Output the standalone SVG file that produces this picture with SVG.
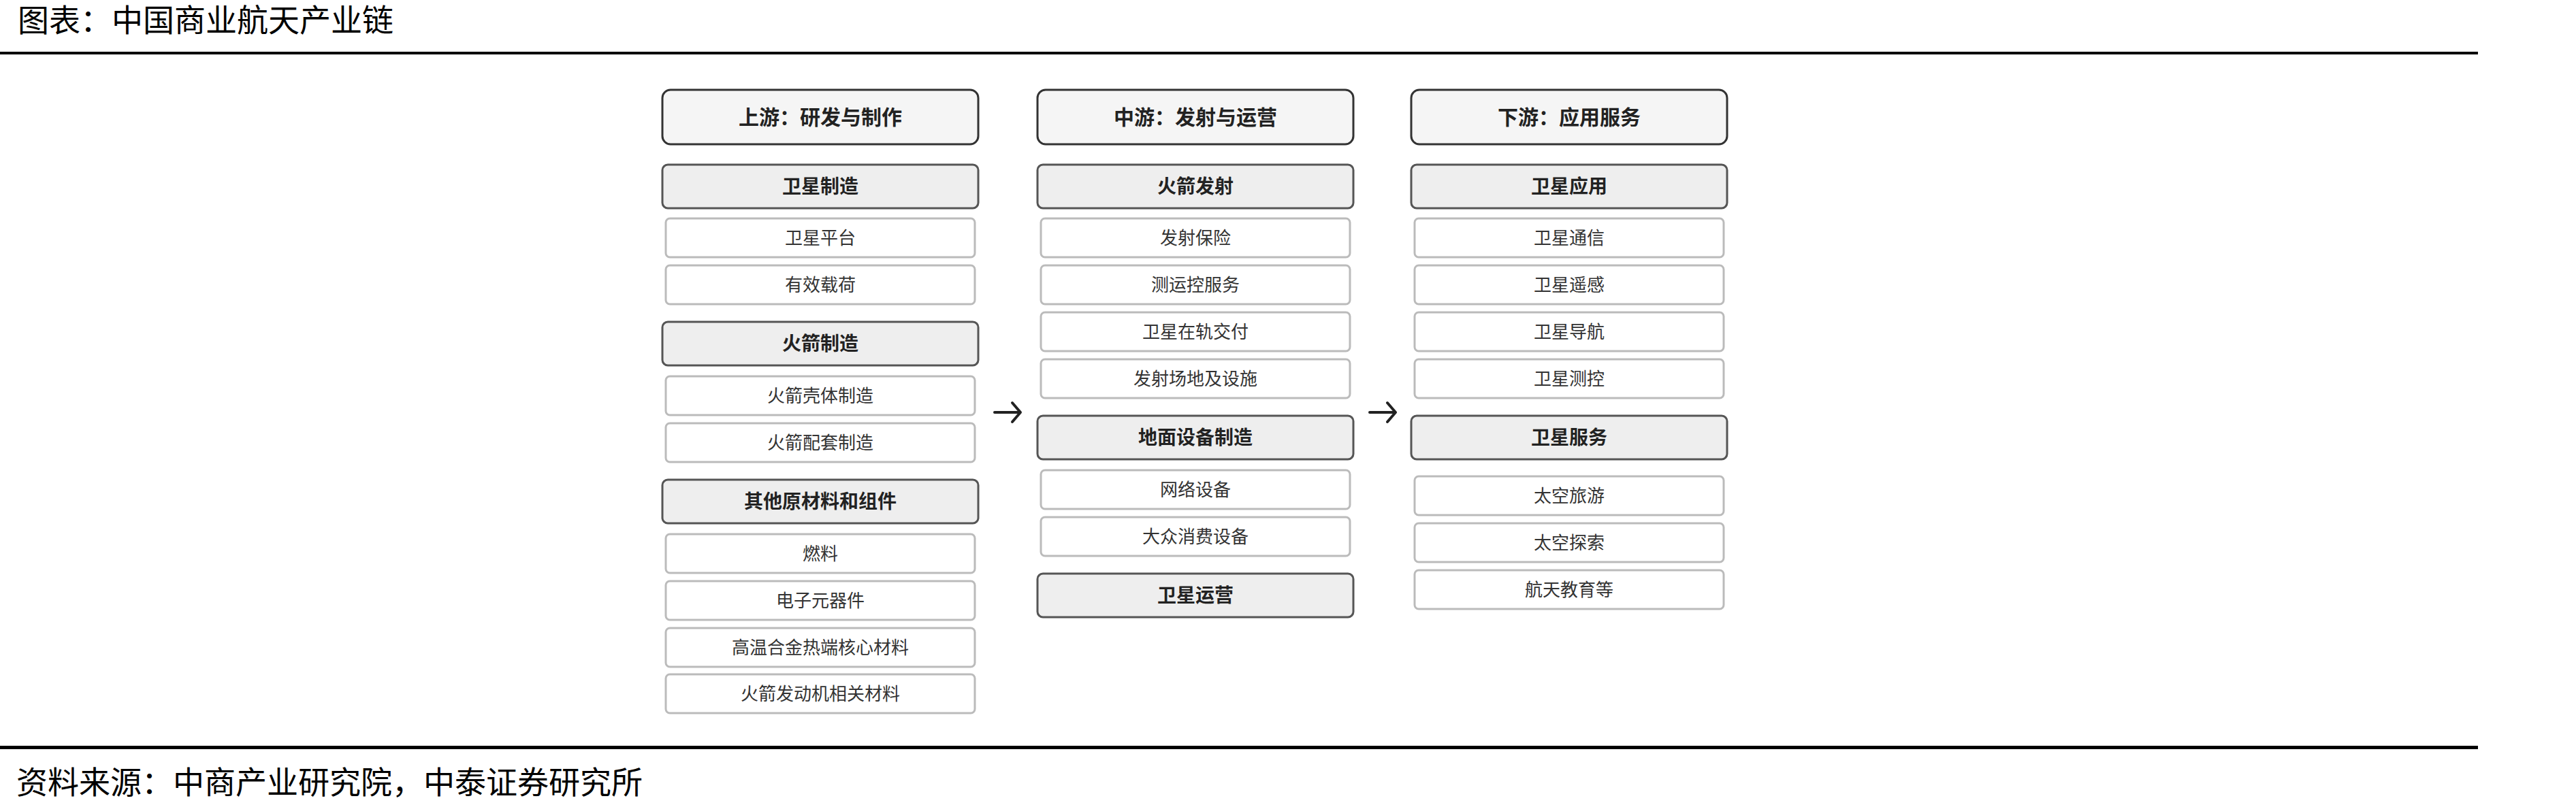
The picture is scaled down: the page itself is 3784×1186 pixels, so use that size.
<svg xmlns="http://www.w3.org/2000/svg" width="3784" height="1186" viewBox="0 0 3784 1186">
<style>
.t{font-family:"Liberation Serif","Noto Sans CJK SC",serif;font-size:46px;fill:#000}
.h rect{fill:#f5f5f5;stroke:#333;stroke-width:3}
.h text{font-family:"Liberation Sans","Noto Sans CJK SC",sans-serif;font-size:30px;font-weight:bold;fill:#222;text-anchor:middle;dominant-baseline:central}
.c rect{fill:#eeeeee;stroke:#555;stroke-width:3}
.c text{font-family:"Liberation Sans","Noto Sans CJK SC",sans-serif;font-size:28px;font-weight:bold;fill:#222;text-anchor:middle;dominant-baseline:central}
.i rect{fill:#fff;stroke:#bbb;stroke-width:3}
.i text{font-family:"Liberation Sans","Noto Sans CJK SC",sans-serif;font-size:26px;fill:#333;text-anchor:middle;dominant-baseline:central}
.a{stroke:#222;stroke-width:4;fill:none;stroke-linecap:round;stroke-linejoin:round}
</style>
<rect width="3784" height="1186" fill="#fff"/>
<text class="t" x="26" y="46">图表：中国商业航天产业链</text>
<rect x="0" y="76" width="3640" height="4" fill="#000"/>
<rect x="0" y="1096" width="3640" height="5" fill="#000"/>
<text class="t" x="24" y="1166">资料来源：中商产业研究院，中泰证券研究所</text>

<g id="up-h" class="h"><rect x="973" y="132" width="464" height="80" rx="12"/><text x="1205" y="172">上游：研发与制作</text></g>
<g id="mid-h" class="h"><rect x="1524" y="132" width="464" height="80" rx="12"/><text x="1756" y="172">中游：发射与运营</text></g>
<g id="down-h" class="h"><rect x="2073" y="132" width="464" height="80" rx="12"/><text x="2305" y="172">下游：应用服务</text></g>

<g id="c1" class="c"><rect x="973" y="242" width="464" height="64" rx="8"/><text x="1205" y="274">卫星制造</text></g>
<g id="i1" class="i"><rect x="978" y="321" width="454" height="57" rx="6"/><text x="1205" y="349.5">卫星平台</text></g>
<g id="i2" class="i"><rect x="978" y="390" width="454" height="57" rx="6"/><text x="1205" y="418.5">有效载荷</text></g>
<g id="c2" class="c"><rect x="973" y="473" width="464" height="64" rx="8"/><text x="1205" y="505">火箭制造</text></g>
<g id="i3" class="i"><rect x="978" y="553" width="454" height="57" rx="6"/><text x="1205" y="581.5">火箭壳体制造</text></g>
<g id="i4" class="i"><rect x="978" y="622" width="454" height="57" rx="6"/><text x="1205" y="650.5">火箭配套制造</text></g>
<g id="c3" class="c"><rect x="973" y="705" width="464" height="64" rx="8"/><text x="1205" y="737">其他原材料和组件</text></g>
<g id="i5" class="i"><rect x="978" y="785" width="454" height="57" rx="6"/><text x="1205" y="813.5">燃料</text></g>
<g id="i6" class="i"><rect x="978" y="854" width="454" height="57" rx="6"/><text x="1205" y="882.5">电子元器件</text></g>
<g id="i7" class="i"><rect x="978" y="923" width="454" height="57" rx="6"/><text x="1205" y="951.5">高温合金热端核心材料</text></g>
<g id="i8" class="i"><rect x="978" y="991" width="454" height="57" rx="6"/><text x="1205" y="1019.5">火箭发动机相关材料</text></g>

<g id="c4" class="c"><rect x="1524" y="242" width="464" height="64" rx="8"/><text x="1756" y="274">火箭发射</text></g>
<g id="i9" class="i"><rect x="1529" y="321" width="454" height="57" rx="6"/><text x="1756" y="349.5">发射保险</text></g>
<g id="i10" class="i"><rect x="1529" y="390" width="454" height="57" rx="6"/><text x="1756" y="418.5">测运控服务</text></g>
<g id="i11" class="i"><rect x="1529" y="459" width="454" height="57" rx="6"/><text x="1756" y="487.5">卫星在轨交付</text></g>
<g id="i12" class="i"><rect x="1529" y="528" width="454" height="57" rx="6"/><text x="1756" y="556.5">发射场地及设施</text></g>
<g id="c5" class="c"><rect x="1524" y="611" width="464" height="64" rx="8"/><text x="1756" y="643">地面设备制造</text></g>
<g id="i13" class="i"><rect x="1529" y="691" width="454" height="57" rx="6"/><text x="1756" y="719.5">网络设备</text></g>
<g id="i14" class="i"><rect x="1529" y="760" width="454" height="57" rx="6"/><text x="1756" y="788.5">大众消费设备</text></g>
<g id="c6" class="c"><rect x="1524" y="843" width="464" height="64" rx="8"/><text x="1756" y="875">卫星运营</text></g>

<g id="c7" class="c"><rect x="2073" y="242" width="464" height="64" rx="8"/><text x="2305" y="274">卫星应用</text></g>
<g id="i15" class="i"><rect x="2078" y="321" width="454" height="57" rx="6"/><text x="2305" y="349.5">卫星通信</text></g>
<g id="i16" class="i"><rect x="2078" y="390" width="454" height="57" rx="6"/><text x="2305" y="418.5">卫星遥感</text></g>
<g id="i17" class="i"><rect x="2078" y="459" width="454" height="57" rx="6"/><text x="2305" y="487.5">卫星导航</text></g>
<g id="i18" class="i"><rect x="2078" y="528" width="454" height="57" rx="6"/><text x="2305" y="556.5">卫星测控</text></g>
<g id="c8" class="c"><rect x="2073" y="611" width="464" height="64" rx="8"/><text x="2305" y="643">卫星服务</text></g>
<g id="i19" class="i"><rect x="2078" y="700" width="454" height="57" rx="6"/><text x="2305" y="728.5">太空旅游</text></g>
<g id="i20" class="i"><rect x="2078" y="769" width="454" height="57" rx="6"/><text x="2305" y="797.5">太空探索</text></g>
<g id="i21" class="i"><rect x="2078" y="838" width="454" height="57" rx="6"/><text x="2305" y="866.5">航天教育等</text></g>

<g id="connectors">
<path class="a" d="M1461 606 H1499 M1487 592 L1499 606 L1487 620"/>
<path class="a" d="M2012 606 H2050 M2038 592 L2050 606 L2038 620"/>
</g>
</svg>
